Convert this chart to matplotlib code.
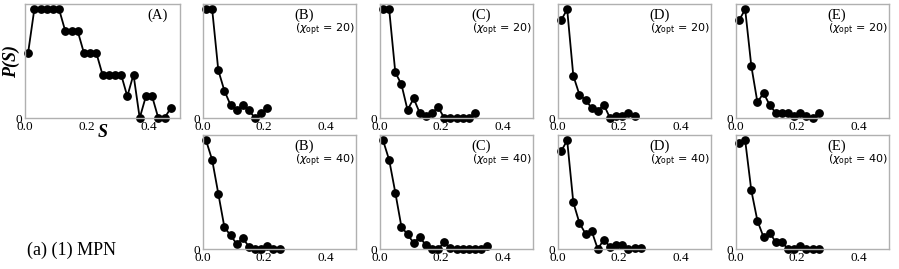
import matplotlib.pyplot as plt

# bin centres (S)
s_bins = [0.01, 0.03, 0.05, 0.07, 0.09, 0.11, 0.13, 0.15, 0.17, 0.19, 0.21, 0.23,
          0.25, 0.27, 0.29, 0.31, 0.33, 0.35, 0.37, 0.39, 0.41, 0.43, 0.45, 0.47]

# panel (A): reference distribution
p_a = [3, 5, 5, 5, 5, 5, 4, 4, 4, 3, 3, 3, 2, 2, 2, 2, 1, 2, 0, 1, 1, 0, 0, 0.45]

# chi_opt = 20
p_b20 = [1, 1, 0.44, 0.25, 0.12, 0.07, 0.12, 0.07, 0, 0.046, 0.093]
p_c20 = [1, 1, 0.42, 0.31, 0.074, 0.18, 0.046, 0.015, 0.046, 0.1, 0, 0, 0, 0, 0, 0.046]
p_d20 = [0.9, 1, 0.39, 0.215, 0.166, 0.092, 0.068, 0.12, 0, 0.015, 0.015, 0.043, 0.015]
p_e20 = [0.9, 1, 0.48, 0.145, 0.23, 0.12, 0.046, 0.046, 0.046, 0.015, 0.046, 0.015, 0, 0.046]

# chi_opt = 40
p_b40 = [1, 0.82, 0.51, 0.2, 0.126, 0.047, 0.1, 0.022, 0, 0, 0.025, 0, 0]
p_c40 = [1, 0.82, 0.52, 0.205, 0.134, 0.056, 0.11, 0.034, 0, 0, 0.062, 0.01,
         0, 0, 0, 0, 0, 0.03]
p_d40 = [0.9, 1, 0.43, 0.24, 0.14, 0.165, 0, 0.087, 0.02, 0.034, 0.034, 0, 0.01, 0.01]
p_e40 = [0.975, 1, 0.54, 0.26, 0.11, 0.15, 0.063, 0.063, 0, 0, 0.03, 0, 0, 0]

x_ticks = [0.0, 0.2, 0.4]
x_ticklabels = ['0.0', '0.2', '0.4']
panel_names = ['B', 'C', 'D', 'E']
chi_values = [20, 40]
series = {20: [p_b20, p_c20, p_d20, p_e20], 40: [p_b40, p_c40, p_d40, p_e40]}

SERIF = 'Liberation Serif'
plt.rcParams['font.family'] = [SERIF, 'DejaVu Sans']
W, H = 899, 269


def add_axes(x0, y0, x1, y1):
    return plt.gcf().add_axes([x0 / W, 1 - y1 / H, (x1 - x0) / W, (y1 - y0) / H])


def style(ax, values):
    ax.plot(s_bins[:len(values)], values, '-o', color='black', lw=1.3, ms=5.3, clip_on=False)
    ax.set_xlim(0, 0.5)
    ax.set_ylim(0, max(values) * 1.05)
    ax.set_xticks(x_ticks)
    ax.set_xticklabels(x_ticklabels, fontfamily=SERIF)
    ax.set_yticks([0])
    ax.set_yticklabels(['0'], fontfamily=SERIF)
    ax.tick_params(length=0, labelsize=9.5, pad=2)
    for sp in ax.spines.values():
        sp.set_color('#b0b0b0')
        sp.set_linewidth(1.0)


fig = plt.figure(figsize=(W / 100, H / 100), dpi=100)

ax = add_axes(25, 4, 180, 118)
style(ax, p_a)
ax.text(0.79, 0.9, '(A)', transform=ax.transAxes, fontsize=10.5, va='center')
ax.set_ylabel('P(S)', fontsize=13, style='italic', weight='bold', labelpad=-3)
ax.set_xlabel('S', fontsize=13, style='italic', weight='bold', labelpad=-6)

left_edges = [203, 380, 558, 736]
row_tops = {20: 4, 40: 135}
for chi in chi_values:
    top = row_tops[chi]
    for i, name in enumerate(panel_names):
        x0 = left_edges[i]
        ax = add_axes(x0, top, x0 + 153, top + 114)
        style(ax, series[chi][i])
        ax.text(0.6, 0.9, f'({name})', transform=ax.transAxes, fontsize=10.5, va='center')
        ax.text(0.6, 0.77, f'($\\chi_{{\\rm opt}}$ = {chi})', transform=ax.transAxes,
                fontsize=8, va='center', family='DejaVu Sans')

fig.text(27 / W, 1 - 250 / H, '(a) (1) MPN', fontsize=13, va='center')

fig.savefig('out.png', dpi=100)
